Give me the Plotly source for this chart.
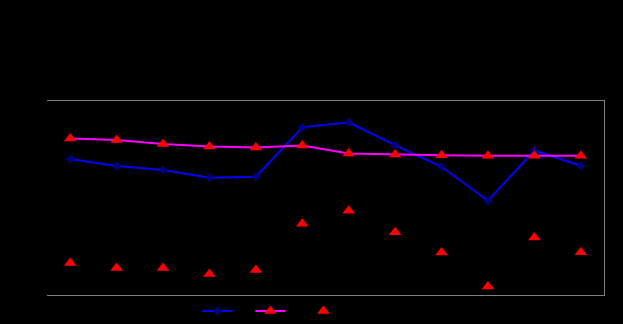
import plotly.graph_objects as go

categories = ["1", "2", "3", "4", "5", "6", "7", "8", "9", "10", "11", "12"]
series_a = [70.1, 66.5, 64.4, 60.5, 61.0, 86.4, 89.0, 77.3, 66.1, 48.6, 74.5, 66.6]
series_b = [80.7, 79.9, 77.8, 76.5, 76.0, 77.1, 73.0, 72.4, 72.0, 71.8, 71.8, 71.8]
series_c = [16.5, 13.9, 13.9, 10.8, 12.9, 36.7, 43.4, 32.3, 21.9, 4.4, 29.6, 22.1]

fig = go.Figure()
fig.add_trace(go.Scatter(
    x=categories, y=series_a, name="A", mode="lines+markers",
    line=dict(color="#0000FF", width=2),
    marker=dict(symbol="diamond", size=7, color="#000080"),
))
fig.add_trace(go.Scatter(
    x=categories, y=series_b, name="B", mode="lines+markers",
    line=dict(color="#FF00FF", width=2),
    marker=dict(symbol="triangle-up", size=11, color="#FF0000"),
))
fig.add_trace(go.Scatter(
    x=categories, y=series_c, name="C", mode="markers",
    marker=dict(symbol="triangle-up", size=11, color="#FF0000"),
    yaxis="y2",
))

fig.update_layout(
    width=623, height=324,
    paper_bgcolor="#000000", plot_bgcolor="#000000",
    margin=dict(l=47, r=19, t=101, b=29, autoexpand=False),
    font=dict(family="Liberation Sans", size=10, color="#000000"),
    showlegend=True,
    legend=dict(orientation="h", x=0.27, xanchor="left",
                yref="container", y=0.04, yanchor="middle",
                bgcolor="rgba(0,0,0,0)", font=dict(color="#000000", size=9),
                entrywidth=8, entrywidthmode="pixels", tracegroupgap=0),
    xaxis=dict(type="category", range=[-0.5, len(categories) - 0.5],
               showgrid=False, zeroline=False,
               showline=True, mirror=True, linecolor="#808080", linewidth=1,
               ticks="", showticklabels=False, automargin=False),
    yaxis=dict(range=[0, 100], showgrid=False, zeroline=False, showline=False,
               ticks="", showticklabels=False, automargin=False),
    yaxis2=dict(range=[0, 100], overlaying="y", side="right", anchor="x",
                showgrid=False, zeroline=False, showline=True,
                linecolor="#808080", linewidth=1,
                ticks="", showticklabels=False, automargin=False),
)

fig.write_html(
    "out.html",
    config={"displayModeBar": False},
    post_script="document.body.style.margin='0';document.body.style.padding='0';document.body.style.overflow='hidden';",
)
